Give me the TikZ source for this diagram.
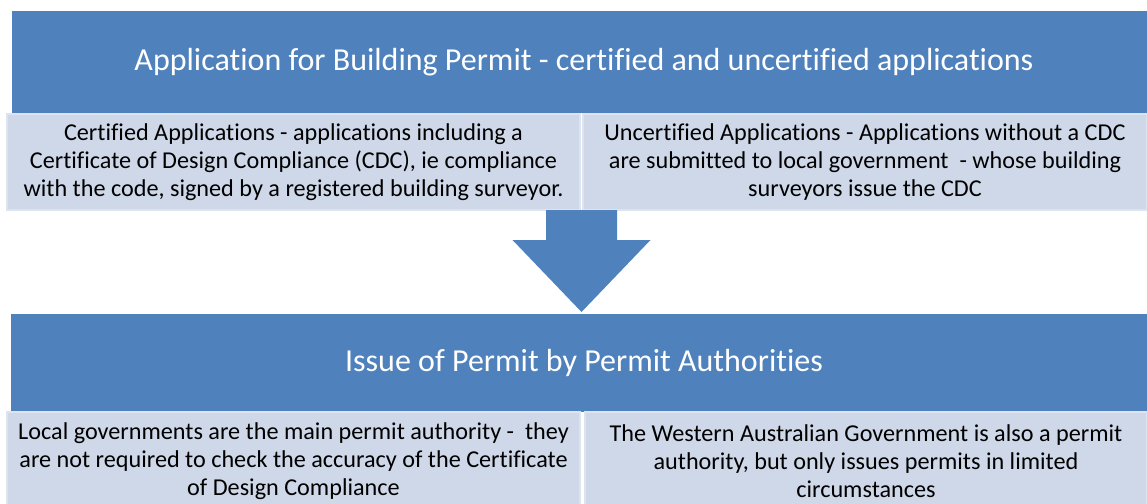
\documentclass[tikz,border=0pt]{standalone}
\usepackage{fontspec}
\setmainfont{Carlito}[Ligatures=NoCommon]
\usepackage{tikz}
\usetikzlibrary{positioning, calc}
\definecolor{permitblue}{RGB}{79,129,189}
\definecolor{permitpale}{RGB}{206,216,232}
\definecolor{permitedge}{RGB}{222,228,239}

\begin{document}
\begin{tikzpicture}[
  x=1pt, y=-1pt,
  every node/.style={inner sep=0pt, outer sep=0pt},
  banner/.style={fill=permitblue, text=white, minimum height=100pt,
                 font=\fontsize{32}{38}\selectfont},
  detail/.style={fill=permitpale, draw=permitedge, line width=1.2pt,
                 align=center, minimum height=96pt,
                 font=\fontsize{24.2}{28}\selectfont},
]
  \useasboundingbox (0,0) rectangle (1147,503);

  % Top banner and its two boxes
  \node[banner, minimum width=1135pt, minimum height=102pt] (apply) at (579.5,62)
       {\hspace*{9pt}Application for Building Permit - certified and uncertified applications};
  \node[detail, minimum width=573pt] (cert) at (293.5,162)
       {Certified Applications - applications including a\\
        Certificate of Design Compliance (CDC), ie compliance\\
        with the code, signed by a registered building surveyor.};
  \node[detail, minimum width=564pt] (uncert) at (865,162)
       {Uncertified Applications - Applications without a CDC\\
        are submitted to local government~ - whose building\\
        surveyors issue the CDC};

  % Bottom banner and its two boxes
  \node[banner, minimum width=1136pt, minimum height=98pt] (issue) at (579,363)
       {\hspace*{10pt}Issue of Permit by Permit Authorities};
  \node[detail, minimum width=573pt, minimum height=98pt] (localgov) at (293.5,461)
       {Local governments are the main permit authority -~ they\\
        are not required to check the accuracy of the Certificate\\
        of Design Compliance};
  \node[detail, minimum width=562pt, minimum height=98pt] (stategov) at (866,461)
       {The Western Australian Government is also a permit\\
        authority, but only issues permits in limited\\
        circumstances};

  % Block arrow between the banners
  \coordinate (top) at ($(cert.south east)!0.5!(uncert.south west)$);
  \coordinate (tip) at ($(issue.north)+(5,-2)$);
  \fill[permitblue]
    ($(top)+(-35.5,0)$) -- ($(top)+(35.5,0)$) -- ($(top)+(35.5,30)$)
    -- ($(top)+(69,30)$) -- (top |- tip) -- ($(top)+(-69,30)$)
    -- ($(top)+(-35.5,30)$) -- cycle;
\end{tikzpicture}
\end{document}
